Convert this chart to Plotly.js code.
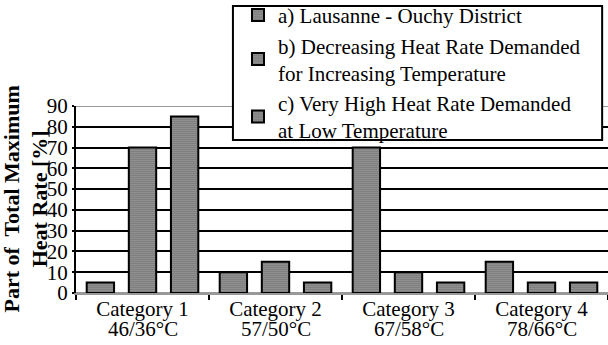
<!DOCTYPE html>
<html>
<head>
<meta charset="utf-8">
<script src="https://cdn.plot.ly/plotly-3.0.1.min.js"></script>
<style>html,body{margin:0;padding:0;background:#fff;}#chart{width:608px;height:345px;}</style>
</head>
<body>
<div id="chart"></div>
<script>
const categories = ['Category 1', 'Category 2', 'Category 3', 'Category 4'];
const temperatures = ['46/36°C', '57/50°C', '67/58°C', '78/66°C'];
const seriesNames = [
  'a) Lausanne - Ouchy District',
  'b) Decreasing Heat Rate Demanded<br>for Increasing Temperature',
  'c) Very High Heat Rate Demanded<br>at Low Temperature'
];
const seriesA = [5, 10, 70, 15];
const seriesB = [70, 15, 10, 5];
const seriesC = [85, 5, 5, 5];
const yTicks = [0, 10, 20, 30, 40, 50, 60, 70, 80, 90];
const yRange = [0, 90];
const yTitle = 'Part of\u00a0 Total Maximum<br>Heat Rate [%]';

const FONT = 'Liberation Serif, serif';
const seriesValues = [seriesA, seriesB, seriesC];
const patterns = [
  {shape: '.', fgcolor: '#555', bgcolor: '#bdbdbd', size: 2, solidity: 0.6},
  {shape: '.', fgcolor: '#4a4a4a', bgcolor: '#c8c8c8', size: 2, solidity: 0.6},
  {shape: '.', fgcolor: '#4a4a4a', bgcolor: '#c8c8c8', size: 2, solidity: 0.6}
];

const traces = seriesValues.map((vals, i) => ({
  type: 'bar',
  name: seriesNames[i],
  x: categories,
  y: vals,
  marker: {
    color: '#999',
    line: {color: '#000', width: 2},
    pattern: patterns[i]
  },
  hoverinfo: 'skip'
}));

const annotations = temperatures.map((t, i) => ({
  x: categories[i],
  xref: 'x',
  y: 0,
  yref: 'paper',
  yanchor: 'top',
  yshift: -22,
  text: t,
  showarrow: false,
  font: {family: FONT, size: 21, color: '#000'}
}));
annotations.push({
  x: 0, xref: 'paper', xanchor: 'right', xshift: -22,
  y: 0.5, yref: 'paper', yanchor: 'middle',
  textangle: -90,
  text: yTitle,
  showarrow: false,
  font: {family: FONT, size: 22, color: '#000', weight: 'bold'}
});

const layout = {
  width: 608,
  height: 345,
  margin: {l: 76, r: 0, t: 106, b: 52, autoexpand: false},
  paper_bgcolor: '#fff',
  plot_bgcolor: '#fff',
  font: {family: FONT, color: '#000'},
  barmode: 'group',
  bargap: 0.05,
  bargroupgap: 0.35,
  showlegend: true,
  legend: {
    x: 0.3045, y: 1.594, xanchor: 'left', yanchor: 'top',
    bgcolor: 'rgba(0,0,0,0)', borderwidth: 0,
    font: {family: FONT, size: 21, color: '#000'},
    tracegroupgap: 0
  },
  xaxis: {
    type: 'category',
    showline: true, linecolor: '#999', linewidth: 2,
    ticks: 'outside', tickson: 'boundaries', ticklen: 5, tickwidth: 2, tickcolor: '#000',
    showgrid: false, zeroline: false,
    tickfont: {family: FONT, size: 21, color: '#000'},
    ticklabelstandoff: -4
  },
  yaxis: {
    range: yRange,
    tickvals: yTicks,
    ticktext: yTicks.map(String),
    showline: true, linecolor: '#000', linewidth: 2,
    ticks: 'outside', ticklen: 2, tickwidth: 2, tickcolor: '#000',
    showgrid: true, gridcolor: '#000', gridwidth: 2,
    zeroline: true, zerolinecolor: '#999', zerolinewidth: 2,
    tickfont: {family: FONT, size: 21, color: '#000'}
  },
  shapes: [
    {
      type: 'line', xref: 'paper', yref: 'y',
      x0: 0, x1: 1, y0: yRange[1], y1: yRange[1],
      line: {color: '#999', width: 2}
    },
    {
      type: 'rect', xref: 'paper', yref: 'paper', layer: 'above',
      x0: 0.295, x1: 0.989, y0: 0.818, y1: 1.535,
      fillcolor: '#fff', line: {color: '#000', width: 2}
    }
  ],
  annotations: annotations
};

Plotly.newPlot('chart', traces, layout, {staticPlot: true, displayModeBar: false});
</script>
</body>
</html>
